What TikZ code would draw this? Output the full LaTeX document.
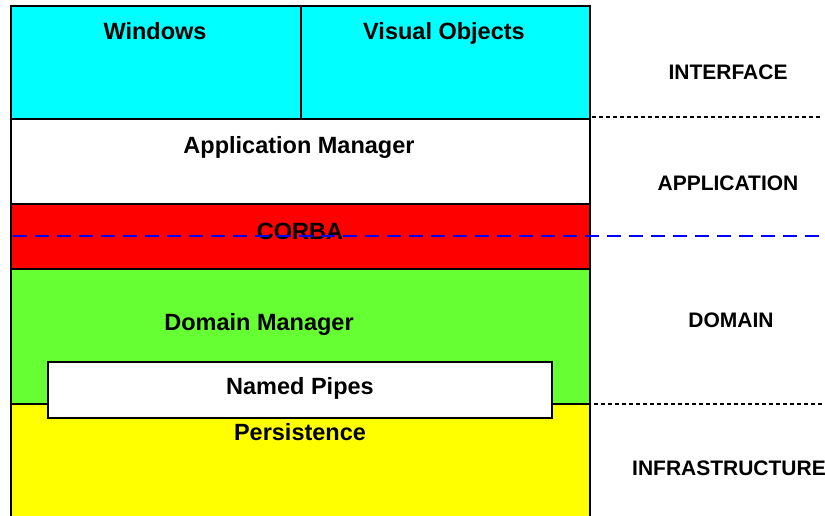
\documentclass[tikz,border=0pt]{standalone}
\usepackage{fontspec}
\setmainfont{Liberation Sans}
\begin{document}
\begin{tikzpicture}[x=1pt,y=-1pt,
  layer/.style={draw=black,line width=2pt,inner sep=0pt,outer sep=0pt,anchor=north west},
  boxlabel/.style={font=\fontsize{23.5}{27}\selectfont\bfseries,anchor=base,inner sep=0pt},
  tierlabel/.style={font=\fontsize{21}{25}\selectfont\bfseries,anchor=base,inner sep=0pt},
  tierline/.style={draw=black,line width=1.3pt,dash pattern=on 4pt off 3pt},
  busline/.style={draw=blue,line width=2.2pt,dash pattern=on 14pt off 8pt}]
\definecolor{layercyan}{HTML}{00FFFF}
\definecolor{layerred}{HTML}{FF0000}
\definecolor{layergreen}{HTML}{66FF33}
\definecolor{layeryellow}{HTML}{FFFF00}
\useasboundingbox (0,0) rectangle (825,516);
\clip (0,0) rectangle (825,516);

% stacked layers
\node[layer,fill=layeryellow,minimum width=579pt,minimum height=126pt] (pers) at (11,404) {};
\node[layer,fill=layergreen,minimum width=579pt,minimum height=135pt] (dom) at (11,269) {};
\node[layer,fill=layerred,minimum width=579pt,minimum height=65pt] (corba) at (11,204) {};
\node[layer,fill=white,minimum width=579pt,minimum height=85pt] (app) at (11,119) {};
\node[layer,fill=layercyan,minimum width=290pt,minimum height=113pt] (win) at (11,6) {};
\node[layer,fill=layercyan,minimum width=289pt,minimum height=113pt] (vis) at (301,6) {};
\node[layer,fill=white,minimum width=504pt,minimum height=56pt] (pipes) at (48,362) {};

% layer captions
\node[boxlabel] (winlbl) at (155,40) {Windows};
\node[boxlabel] (vislbl) at (444,40) {Visual Objects};
\node[boxlabel] (applbl) at (299,154) {Application Manager};
\node[boxlabel] (corbalbl) at (300,239) {CORBA};
\node[boxlabel] (domlbl) at (259,330) {Domain Manager};
\node[boxlabel] (pipeslbl) at (300,394) {Named Pipes};
\node[boxlabel] (perslbl) at (300,440) {Persistence};

% tier names
\node[tierlabel] (tinterface) at (728,80) {INTERFACE};
\node[tierlabel] (tapplication) at (728,190) {APPLICATION};
\node[tierlabel] (tdomain) at (731,327) {DOMAIN};
\node[tierlabel] (tinfra) at (729,475) {INFRASTRUCTURE};

% tier separators
\coordinate (s1a) at (592,117);
\coordinate (s1b) at (822,117);
\coordinate (s2a) at (594,404);
\coordinate (s2b) at (823,404);
\coordinate (busa) at (13,236);
\coordinate (busb) at (825,236);
\draw[tierline] (s1a) -- (s1b);
\draw[tierline] (s2a) -- (s2b);
\draw[busline] (busa) -- (busb);
\end{tikzpicture}
\end{document}
